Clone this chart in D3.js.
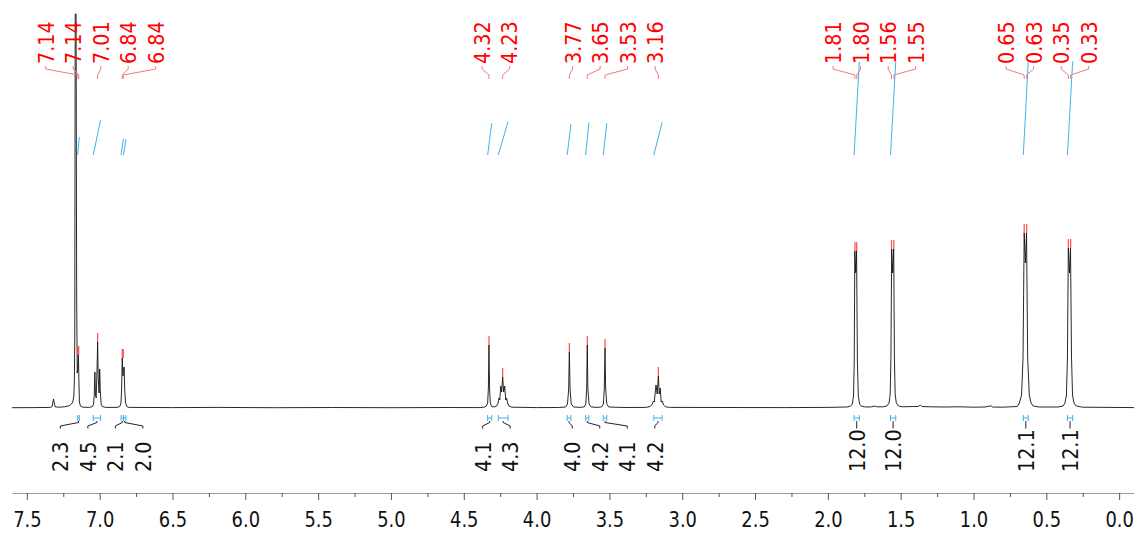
<!DOCTYPE html>
<meta charset="utf-8">
<style>
body { margin: 0; background: #fff; }
svg { display: block; }
.lbl { font-family: "DejaVu Sans", sans-serif; font-size: 22px; }
</style>
<body>
<script src="https://d3js.org/d3.v7.min.js"></script>
<script>

// spectrum trace: [ppm, height above baseline]
var trace = [
  [7.602, 0.3], [7.45, 0.4], [7.34, 0.6],
  [7.326, 1.5], [7.320, 7], [7.317, 9], [7.313, 6], [7.306, 1.2],
  [7.28, 0.8], [7.24, 1.2], [7.21, 2.2], [7.195, 3.8], [7.185, 6], [7.178, 11], [7.174, 25], [7.171, 70],
  [7.168, 394], [7.162, 394], [7.158, 110],
  [7.154, 35], [7.150, 40], [7.146, 53], [7.143, 30], [7.139, 6], [7.132, 2], [7.115, 0.8],
  [7.07, 0.6], [7.05, 1.5], [7.042, 4], [7.037, 14], [7.033, 36], [7.029, 14], [7.024, 10], [7.018, 40],
  [7.014, 66], [7.010, 30], [7.004, 15], [7.000, 39], [6.996, 18], [6.990, 4], [6.982, 1.5], [6.96, 0.6],
  [6.88, 0.6], [6.862, 1.5], [6.854, 5], [6.849, 20], [6.845, 50], [6.840, 32], [6.836, 38], [6.832, 41],
  [6.828, 18], [6.822, 5], [6.814, 1.5], [6.80, 0.6],
  [6.5, 0.4], [6.2, 0.6], [5.8, 0.3], [5.4, 0.5], [5.0, 0.3], [4.6, 0.5], [4.40, 0.4],
  [4.36, 0.8], [4.345, 2], [4.336, 5], [4.331, 20], [4.327, 63], [4.323, 20], [4.318, 5], [4.308, 1.5], [4.29, 1],
  [4.275, 2], [4.264, 5], [4.258, 10], [4.253, 8], [4.246, 22], [4.240, 16], [4.233, 31], [4.226, 16],
  [4.219, 22], [4.212, 8], [4.206, 10], [4.199, 5], [4.19, 2], [4.17, 0.8],
  [4.0, 0.4], [3.85, 0.5], [3.80, 1], [3.788, 4], [3.780, 18], [3.775, 56], [3.770, 18], [3.762, 4], [3.745, 1], [3.70, 0.6],
  [3.672, 1.2], [3.662, 4], [3.656, 20], [3.652, 63], [3.648, 20], [3.640, 4], [3.625, 1], [3.58, 0.6],
  [3.553, 1.2], [3.541, 4], [3.535, 20], [3.530, 60], [3.526, 20], [3.518, 4], [3.505, 1], [3.40, 0.5],
  [3.25, 0.6], [3.22, 1.5], [3.205, 4], [3.198, 7], [3.192, 6], [3.180, 23], [3.172, 14], [3.164, 32],
  [3.158, 14], [3.151, 20], [3.145, 6], [3.137, 7], [3.128, 3], [3.115, 1.2], [3.08, 0.6],
  [2.7, 0.5], [2.3, 0.4], [2.0, 0.6],
  [1.87, 1], [1.845, 1.8], [1.832, 4], [1.824, 12], [1.819, 45], [1.815, 157], [1.809, 135], [1.803, 157],
  [1.797, 45], [1.791, 12], [1.782, 4], [1.77, 1.8], [1.74, 1],
  [1.70, 1.2], [1.675, 2], [1.665, 1.2], [1.62, 1.2],
  [1.595, 2], [1.580, 5], [1.572, 14], [1.567, 50], [1.562, 159], [1.555, 135], [1.548, 159], [1.543, 50],
  [1.538, 14], [1.530, 5], [1.515, 2], [1.49, 1.2],
  [1.42, 1.5], [1.38, 1.5], [1.365, 3], [1.355, 1.5], [1.30, 1.2], [1.20, 1], [1.10, 1.2], [1.0, 0.8],
  [0.92, 1], [0.88, 2.2], [0.87, 1], [0.80, 0.8],
  [0.70, 1.5], [0.685, 5], [0.670, 13], [0.660, 50], [0.652, 175], [0.644, 145], [0.636, 175], [0.628, 50],
  [0.617, 13], [0.605, 5], [0.59, 2], [0.55, 1],
  [0.42, 1], [0.385, 2], [0.372, 5], [0.362, 13], [0.355, 50], [0.349, 160], [0.341, 135], [0.334, 160],
  [0.327, 50], [0.320, 13], [0.310, 5], [0.295, 2], [0.25, 0.8], [-0.102, 0.4]
];

// picked peaks
var peakPpm    = [7.148, 7.144, 7.014, 6.845, 6.838, 4.327, 4.233, 3.775, 3.652, 3.530, 3.164, 1.814, 1.802, 1.563, 1.547, 0.652, 0.635, 0.349, 0.333];
var peakText   = ["7.14", "7.14", "7.01", "6.84", "6.84", "4.32", "4.23", "3.77", "3.65", "3.53", "3.16", "1.81", "1.80", "1.56", "1.55", "0.65", "0.63", "0.35", "0.33"];
var peakHeight = [53, 53, 66, 50, 50, 63, 31, 56, 63, 60, 32, 157, 157, 159, 159, 175, 175, 160, 160];
var peakGroup  = [0, 0, 0, 0, 0, 1, 1, 2, 2, 2, 2, 3, 3, 3, 3, 4, 4, 4, 4];

// integrals
var intFrom  = [7.151, 7.044, 6.853, 6.836, 4.336, 4.263, 3.790, 3.663, 3.542, 3.195, 1.820, 1.570, 0.658, 0.355];
var intTo    = [7.140, 6.994, 6.837, 6.820, 4.308, 4.196, 3.764, 3.641, 3.518, 3.138, 1.784, 1.534, 0.624, 0.319];
var intValue = [2.3, 4.5, 2.1, 2.0, 4.1, 4.3, 4.0, 4.2, 4.1, 4.2, 12.0, 12.0, 12.1, 12.1];
var intGroup = [0, 0, 0, 0, 1, 1, 2, 2, 2, 2, 3, 4, 5, 6];

// axis ticks
var majorTicks = [7.5, 7.0, 6.5, 6.0, 5.5, 5.0, 4.5, 4.0, 3.5, 3.0, 2.5, 2.0, 1.5, 1.0, 0.5, 0.0];
var minorTicks = [7.25, 6.75, 6.25, 5.75, 5.25, 4.75, 4.25, 3.75, 3.25, 2.75, 2.25, 1.75, 1.25, 0.75, 0.25];

var width = 1134, height = 533;
var fs = 22;
var red = "#ff0000", blue = "#3cb4ea";

var svg = d3.select("body").append("svg")
    .attr("width", width)
    .attr("height", height);

var x = d3.scaleLinear().domain([7.602, -0.102]).range([12, 1134]);
var y = d3.scaleLinear().domain([0, 400]).range([408, 8]);
var yInt = d3.scaleLinear().domain([0, 12]).range([155, 62]);

// width of a number in Tahoma-like metrics, used to squeeze DejaVu
function tlen(s) {
  var n = 0;
  for (var c of s) n += (c === ".") ? 0.298 : 0.546;
  return n * fs;
}

// spread labels of a group evenly round the middle of their targets
function spread(xs, groups, gap) {
  var out = [];
  d3.groups(d3.range(xs.length), function(i) { return groups[i]; }).forEach(function(g) {
    var idx = g[1].slice().sort(function(a, b) { return xs[a] - xs[b]; });
    var mid = (xs[idx[0]] + xs[idx[idx.length - 1]]) / 2;
    idx.forEach(function(i, k) { out[i] = mid + (k - (idx.length - 1) / 2) * gap; });
  });
  return out;
}

function vtext(px, py, s, color) {
  svg.append("text")
    .attr("class", "lbl")
    .attr("transform", "translate(" + px + "," + py + ") rotate(-90)")
    .attr("dy", "0.36em")
    .attr("fill", color)
    .attr("textLength", tlen(s))
    .attr("lengthAdjust", "spacingAndGlyphs")
    .text(s);
}

// integral curves
svg.selectAll(".icurve")
  .data(intValue)
  .enter().append("line")
    .attr("x1", function(d, i) { return x(intFrom[i]); })
    .attr("y1", yInt(0))
    .attr("x2", function(d, i) { return x(intTo[i]); })
    .attr("y2", function(d) { return yInt(d); })
    .attr("stroke", blue)
    .attr("stroke-width", 1);

// spectrum
var line = d3.line()
    .x(function(d) { return x(d[0]); })
    .y(function(d) { return y(d[1]); });

svg.append("path")
    .datum(trace)
    .attr("fill", "none")
    .attr("stroke", "#111")
    .attr("stroke-width", 0.9)
    .attr("d", line);

// peak marks
svg.selectAll(".pmark")
  .data(peakPpm)
  .enter().append("line")
    .attr("x1", function(d) { return x(d); })
    .attr("x2", function(d) { return x(d); })
    .attr("y1", function(d, i) { return y(peakHeight[i]) - 9; })
    .attr("y2", function(d, i) { return y(peakHeight[i]); })
    .attr("stroke", "#ff4a4a")
    .attr("stroke-width", 1.2);

// peak labels
var peakX = peakPpm.map(function(d) { return x(d); });
var peakLX = spread(peakX, peakGroup, 27.5);
peakPpm.forEach(function(d, i) {
  svg.append("path")
    .attr("d", d3.line()([[peakLX[i], 66], [peakLX[i], 69], [peakX[i], 75], [peakX[i], 79]]))
    .attr("fill", "none")
    .attr("stroke", "#f47a7a")
    .attr("stroke-width", 1);
  vtext(peakLX[i], 64, peakText[i], red);
});

// integral ranges and labels
var fmt = d3.format(".1f");
var intX = intFrom.map(function(d, i) { return x((d + intTo[i]) / 2); });
var intLX = spread(intX, intGroup, 27.5);
intValue.forEach(function(v, i) {
  var x1 = x(intFrom[i]), x2 = x(intTo[i]);
  svg.append("path")
    .attr("d", "M" + x1 + ",415V421M" + x2 + ",415V421M" + x1 + ",418H" + x2)
    .attr("fill", "none")
    .attr("stroke", blue)
    .attr("stroke-width", 1);
  svg.append("path")
    .attr("d", d3.line()([[intX[i], 421], [intX[i], 422.5], [intLX[i], 426], [intLX[i], 428.5]]))
    .attr("fill", "none")
    .attr("stroke", "#222")
    .attr("stroke-width", 1);
  vtext(intLX[i], 472, fmt(v), "#111");
});

// x axis
var axis = svg.append("g")
    .attr("transform", "translate(0,493)")
    .call(d3.axisBottom(x).tickValues(majorTicks).tickSize(7).tickSizeOuter(0).tickFormat(d3.format(".1f")));

svg.append("g")
    .attr("transform", "translate(0,493)")
    .call(d3.axisBottom(x).tickValues(minorTicks).tickSize(4).tickSizeOuter(0).tickFormat(""))
    .select(".domain").remove();

axis.select(".domain").attr("stroke", "#9a9a9a");
svg.selectAll(".tick line").attr("stroke", "#555");
axis.selectAll(".tick text")
    .attr("class", "lbl")
    .attr("y", 34)
    .attr("dy", null)
    .attr("fill", "#111")
    .style("font-size", "21px")
    .attr("textLength", function() { return tlen(this.textContent) * 0.93; })
    .attr("lengthAdjust", "spacingAndGlyphs");

</script>
</body>
